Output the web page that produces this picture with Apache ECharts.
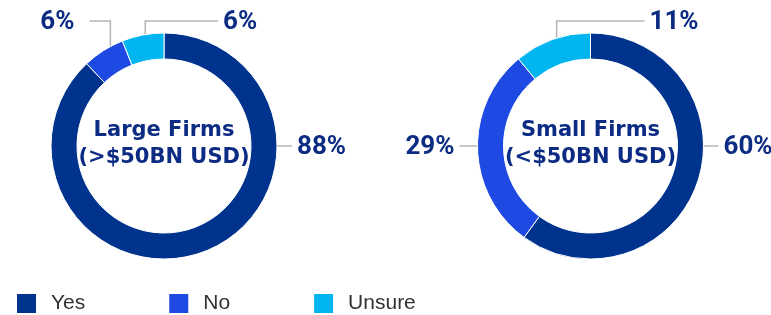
<!DOCTYPE html>
<html>
<head>
<meta charset="utf-8">
<script src="https://cdn.jsdelivr.net/npm/echarts@6/dist/echarts.min.js"></script>
<style>
  html, body { margin: 0; padding: 0; background: #fff; }
  #main { width: 771px; height: 315px; }
</style>
</head>
<body>
<div id="main"></div>
<script>
  // data
  const categories = ['Yes', 'No', 'Unsure']
  const largeFirms = [88, 6, 6]
  const smallFirms = [60, 29, 11]
  const donutTitles = ['Large Firms\n(>$50BN USD)', 'Small Firms\n(<$50BN USD)']

  // layout
  const CY = 146
  const R_IN = 87
  const R_OUT = 113
  const centersX = [164, 590.5]
  const colors = ['#00338d', '#1e49e2', '#00b5f0']
  const navy = '#0c2c84'

  // place labels: big slices go out horizontally, small ones go up then sideways
  function makeLayout(cx, values) {
    const total = values.reduce((a, b) => a + b, 0)
    const rMid = (R_IN + R_OUT) / 2
    return function (p) {
      const i = p.dataIndex
      let before = 0
      for (let k = 0; k < i; k++) before += values[k]
      const share = values[i] / total
      const mid = (before + values[i] / 2) / total * 360
      if (share > 0.2) {
        const dir = mid < 180 ? 1 : -1
        const len = dir > 0 ? 28 : 31
        const x0 = cx + dir * rMid
        const x1 = cx + dir * (rMid + len)
        return {
          x: x1 + dir * 5, y: CY + 1,
          align: dir > 0 ? 'left' : 'right', verticalAlign: 'middle',
          labelLinePoints: [[x0, CY], [x1, CY], [x1, CY]]
        }
      }
      const a = mid * Math.PI / 180
      const x0 = cx + rMid * Math.sin(a)
      const y0 = CY - rMid * Math.cos(a)
      const yTop = CY - R_OUT - 12
      const last = i === values.length - 1
      const x1 = last ? cx + 54 : x0 - 21
      return {
        x: last ? x1 + 5 : x1 - 15, y: yTop + 1,
        align: last ? 'left' : 'right', verticalAlign: 'middle',
        labelLinePoints: [[x0, y0], [x0, yTop], [x1, yTop]]
      }
    }
  }

  function donut(cx, values) {
    return {
      type: 'pie',
      center: [cx, CY],
      radius: [R_IN, R_OUT],
      startAngle: 90,
      clockwise: true,
      avoidLabelOverlap: false,
      animation: false,
      itemStyle: { borderColor: '#fff', borderWidth: 1 },
      label: {
        show: true,
        position: 'outside',
        formatter: '{c}%',
        color: navy,
        fontFamily: 'Roboto, sans-serif',
        fontWeight: 'bold',
        fontSize: 26
      },
      labelLine: {
        show: true,
        lineStyle: { color: '#b5b5b5', width: 1.5 }
      },
      labelLayout: makeLayout(cx, values),
      emphasis: { disabled: true },
      data: categories.map((name, i) => ({ name: name, value: values[i] }))
    }
  }

  let chart = echarts.init(document.getElementById('main'))
  let option = {
    color: colors,
    legend: {
      data: categories,
      left: 15,
      top: 292,
      padding: 0,
      icon: 'rect',
      itemWidth: 21,
      itemHeight: 21,
      itemGap: 82,
      selectedMode: false,
      textStyle: {
        fontSize: 21,
        color: '#333',
        fontFamily: '"Liberation Sans", sans-serif',
        padding: [0, 0, 0, 9]
      }
    },
    graphic: donutTitles.map((t, i) => ({
      type: 'text',
      x: centersX[i],
      y: 144,
      style: {
        text: t,
        fill: navy,
        font: 'bold 21px "DejaVu Sans", sans-serif',
        lineHeight: 27,
        align: 'center',
        verticalAlign: 'middle'
      }
    })),
    series: [donut(centersX[0], largeFirms), donut(centersX[1], smallFirms)]
  }
  chart.setOption(option)
</script>
</body>
</html>
